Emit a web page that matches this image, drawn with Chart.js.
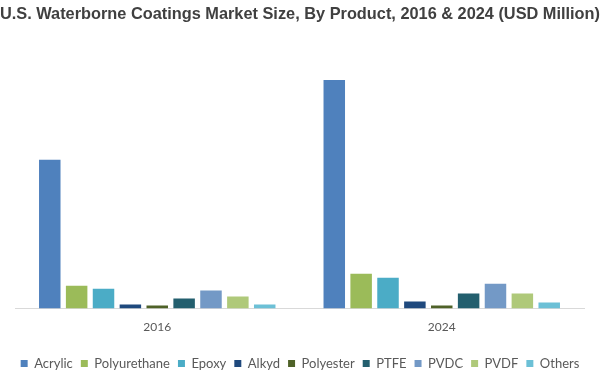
<!DOCTYPE html>
<html>
<head>
<meta charset="utf-8">
<script src="https://cdn.jsdelivr.net/npm/chart.js@4.4.1/dist/chart.umd.min.js"></script>
<style>
  html, body { margin: 0; padding: 0; background: #fff; }
  #wrap { width: 600px; height: 372px; position: relative; }
</style>
</head>
<body>
<div id="wrap"><canvas id="chart"></canvas></div>
<script>
// U.S. Waterborne Coatings Market Size, By Product

const years = ['2016', '2024'];
const products = ['Acrylic', 'Polyurethane', 'Epoxy', 'Alkyd', 'Polyester', 'PTFE', 'PVDC', 'PVDF', 'Others'];

// values per product: [2016, 2024]
const acrylic = [149, 229];
const polyurethane = [23, 35];
const epoxy = [20, 31];
const alkyd = [4, 7];
const polyester = [3, 3];
const ptfe = [10, 15];
const pvdc = [18, 25];
const pvdf = [12, 15];
const others = [4, 6];

const seriesValues = [acrylic, polyurethane, epoxy, alkyd, polyester, ptfe, pvdc, pvdf, others];
const colors = ['#4f81bd', '#9bbb59', '#4bacc6', '#1f497d', '#4f6228', '#235f6e', '#7399c6', '#afc97a', '#6cc0d6'];

const datasets = products.map((name, i) => ({
    label: name,
    data: seriesValues[i],
    backgroundColor: colors[i],
    borderWidth: 0,
    categoryPercentage: 0.85,
    barPercentage: 0.8
}));

// invisible side axes, only used to keep the plot away from the edges
function spacer(width, position) {
    return {
        position: position,
        min: 0,
        max: 250,
        grid: { display: false },
        border: { display: false },
        ticks: { display: false },
        afterFit: function(axis) { axis.width = width; }
    };
}

const ySpacer = spacer(15, 'left');
const yRight = spacer(16, 'right');

new Chart(document.getElementById('chart').getContext('2d'), {
    type: 'bar',
    data: { labels: years, datasets: datasets },
    options: {
        responsive: true,
        maintainAspectRatio: false,
        animation: false,
        layout: { padding: { left: 0, right: 0, top: 4, bottom: -8 } },
        plugins: {
            title: {
                display: true,
                text: 'U.S. Waterborne Coatings Market Size, By Product, 2016 & 2024 (USD Million)',
                color: '#404040',
                font: { family: 'Liberation Sans, Arial', size: 16.6, weight: 'bold' },
                padding: { top: 0, bottom: 35 }
            },
            legend: {
                position: 'bottom',
                labels: {
                    color: '#595959',
                    font: { family: 'Lato, Calibri', size: 13 },
                    boxWidth: 7,
                    boxHeight: 7,
                    padding: 8
                }
            },
            tooltip: { enabled: false }
        },
        scales: {
            y: ySpacer,
            yRight: yRight,
            x: {
                grid: { display: false },
                border: { color: '#d9d9d9' },
                afterFit: function(axis) {
                    axis.height += 12;
                },
                ticks: {
                    color: '#595959',
                    font: { family: 'Lato, Calibri', size: 12 },
                    padding: 3
                }
            }
        }
    }
});
</script>
</body>
</html>
